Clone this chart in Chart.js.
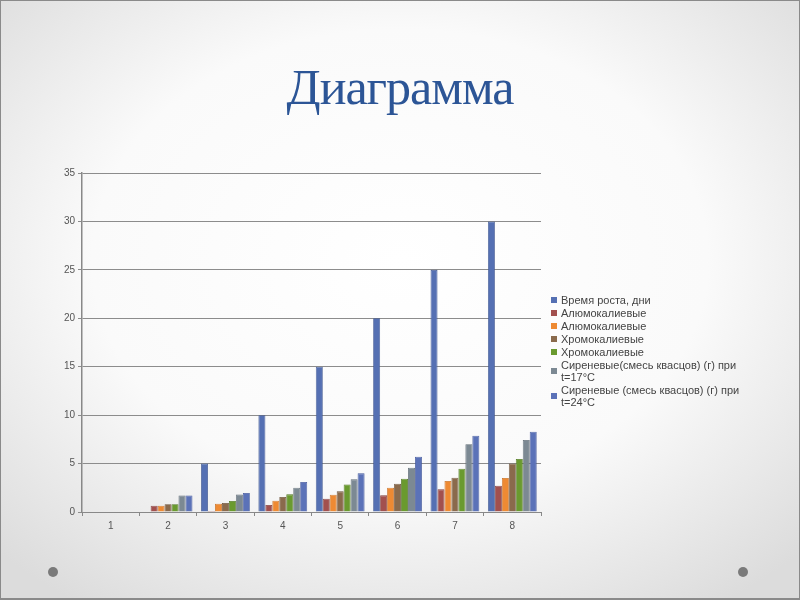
<!DOCTYPE html>
<html>
<head>
<meta charset="utf-8">
<script src="https://cdn.jsdelivr.net/npm/chart.js@4"></script>
<style>
  html, body { margin: 0; padding: 0; }
  body {
    width: 800px; height: 600px; position: relative; overflow: hidden;
    background: radial-gradient(ellipse 560px 420px at 400px 260px, #ffffff 0%, #fafafa 55%, #dcdcdc 100%);
    font-family: "Liberation Sans", Arial, sans-serif;
  }
  .frame { position: absolute; left: 0; top: 0; width: 798px; height: 597px; border: 1px solid #8a8a8a; border-bottom-width: 2px; }
  h1 {
    position: absolute; left: 0; width: 800px; top: 58px; margin: 0;
    text-align: center; font-family: "Liberation Serif", "DejaVu Serif", serif;
    font-weight: normal; font-size: 50px; color: #2c5596; letter-spacing: -1px;
  }
  .dot { position: absolute; width: 10px; height: 10px; border-radius: 50%; background: #7a7a7a; top: 567px; }
  #wrap { position: absolute; left: 0; top: 0; width: 800px; height: 600px; }
  #legend { position: absolute; left: 551px; top: 294px; font-size: 11px; color: #444; line-height: 12px; }
  #legend .item { position: relative; padding-left: 10px; margin-bottom: 1px; }
  #legend .sw { position: absolute; left: 0; width: 6px; height: 6px; top: 3px; }
  #legend .item.two .sw { top: 9px; }
</style>
</head>
<body>
<div class="frame"></div>
<h1>Диаграмма</h1>
<div class="dot" style="left:48px"></div>
<div class="dot" style="left:738px"></div>
<div id="wrap"><canvas id="chart" width="800" height="600"></canvas></div>
<div id="legend"></div>
<script>
// categories and series
const categories = ['1', '2', '3', '4', '5', '6', '7', '8']
const growthDays = [null, 0, 5, 10, 15, 20, 25, 30]
const alum1 = [null, 0.65, 0.1, 0.72, 1.37, 1.72, 2.34, 2.72]
const alum2 = [null, 0.65, 0.85, 1.17, 1.79, 2.5, 3.2, 3.51]
const chrome1 = [null, 0.8, 0.93, 1.55, 2.13, 2.92, 3.54, 5.02]
const chrome2 = [null, 0.8, 1.13, 1.82, 2.85, 3.44, 4.47, 5.47]
const lilac17 = [null, 1.7, 1.8, 2.5, 3.37, 4.57, 7.0, 7.43]
const lilac24 = [null, 1.7, 1.96, 3.1, 3.99, 5.7, 7.88, 8.29]

const seriesNames = [
  'Время роста, дни',
  'Алюмокалиевые',
  'Алюмокалиевые',
  'Хромокалиевые',
  'Хромокалиевые',
  ['Сиреневые(смесь квасцов) (г) при', 't=17°C'],
  ['Сиреневые (смесь квасцов) (г) при', 't=24°C']
]
const seriesData = [growthDays, alum1, alum2, chrome1, chrome2, lilac17, lilac24]
const colors = ['#5570b3', '#a2504e', '#ee8a33', '#8a6a4c', '#6a9a2f', '#7c8993', '#5b72b8']
const borders = ['#3f5690', '#7e3b39', '#c46d22', '#6a5038', '#4f7520', '#5e6a73', '#43579a']

const datasets = seriesData.map((d, i) => ({
  label: Array.isArray(seriesNames[i]) ? seriesNames[i].join(' ') : seriesNames[i],
  data: d,
  backgroundColor: colors[i],
  borderColor: borders[i],
  borderWidth: 0.8,
  categoryPercentage: 0.85,
  barPercentage: 1.0
}))

// html legend, multi-line entries kept as in the picture
const legend = document.getElementById('legend')
seriesNames.forEach((name, i) => {
  const item = document.createElement('div')
  item.className = 'item' + (Array.isArray(name) ? ' two' : '')
  const sw = document.createElement('span')
  sw.className = 'sw'
  sw.style.background = colors[i]
  item.appendChild(sw)
  const lines = Array.isArray(name) ? name : [name]
  lines.forEach((t, j) => {
    if (j) item.appendChild(document.createElement('br'))
    item.appendChild(document.createTextNode(t))
  })
  legend.appendChild(item)
})

const ctx = document.getElementById('chart').getContext('2d')
new Chart(ctx, {
  type: 'bar',
  data: { labels: categories, datasets },
  options: {
    responsive: false,
    animation: false,
    layout: { padding: { left: 40, right: 259, top: 173, bottom: 58 } },
    plugins: {
      legend: { display: false },
      tooltip: { enabled: false }
    },
    scales: {
      x: {
        grid: { display: true, drawOnChartArea: false, drawTicks: true, tickLength: 4, color: '#888', offset: true },
        border: { color: '#888', width: 1 },
        ticks: { color: '#555', font: { family: 'Liberation Sans', size: 10 }, padding: 4 },
        afterFit: (s) => { s.height = 30 }
      },
      y: {
        min: 0,
        max: 35,
        ticks: { stepSize: 5, color: '#555', font: { family: 'Liberation Sans', size: 10 }, padding: 3 },
        grid: { color: '#8c8c8c', lineWidth: 1, tickLength: 4 },
        border: { color: '#888', width: 1.5 },
        afterFit: (s) => { s.width = 42 }
      }
    }
  }
})
</script>
</body>
</html>
